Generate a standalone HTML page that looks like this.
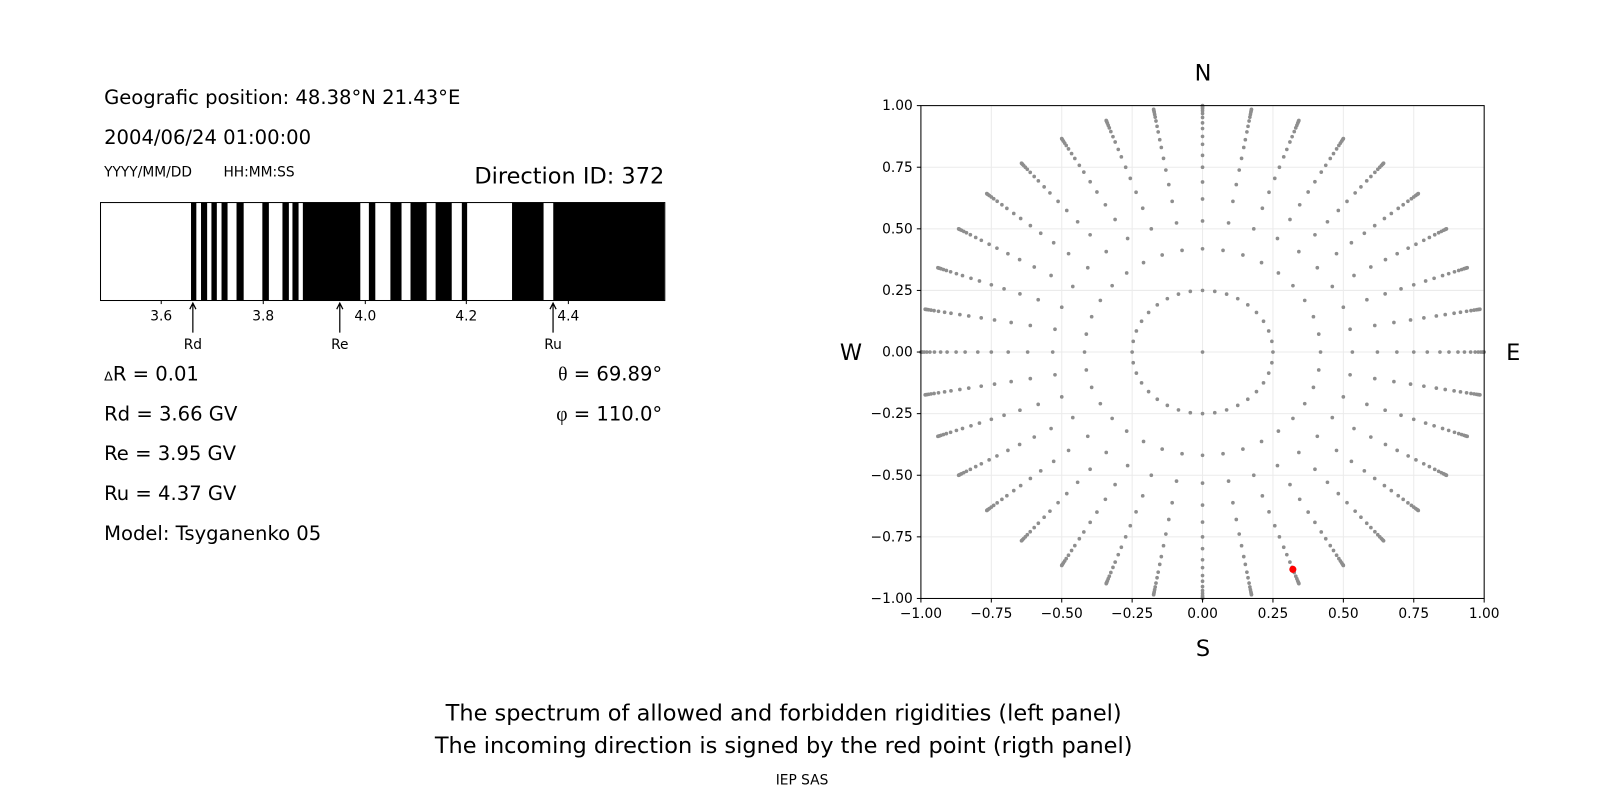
<!DOCTYPE html>
<html><head><meta charset="utf-8"><style>
html,body{margin:0;padding:0;background:#fff}
svg{display:block}
text{font-family:"DejaVu Sans","Liberation Sans",sans-serif;fill:#000}
</style></head><body>
<svg id="s" width="1600" height="800" viewBox="0 0 1600 800" xmlns="http://www.w3.org/2000/svg">
<g transform="scale(1.0204)">
<g font-size="19.2">
<text x="102" y="102">Geografic position: 48.38°N 21.43°E</text>
<text x="102" y="141">2004/06/24 01:00:00</text>
<text x="102" y="373"><tspan font-size="12.5">Δ</tspan>R = 0.01</text>
<text x="102" y="412">Rd = 3.66 GV</text>
<text x="102" y="451">Re = 3.95 GV</text>
<text x="102" y="490">Ru = 4.37 GV</text>
<text x="102" y="529">Model: Tsyganenko 05</text>
<text x="649" y="373" text-anchor="end"><tspan font-family="Liberation Serif,serif">θ</tspan> = 69.89°</text>
<text x="649" y="412" text-anchor="end"><tspan font-family="Liberation Serif,serif">φ</tspan> = 110.0°</text>
</g>
<text x="102" y="173" font-size="13.5">YYYY/MM/DD</text>
<text x="219" y="173" font-size="13.5">HH:MM:SS</text>
<text x="651" y="180" font-size="22" text-anchor="end">Direction ID: 372</text>
<g id="bar"></g>
<rect x="98.5" y="198.5" width="553" height="96" fill="none" stroke="#000" stroke-width="1"/>
<g font-size="13.5" text-anchor="middle">
<line x1="158" y1="294" x2="158" y2="298" stroke="#000"/><text x="158" y="314">3.6</text>
<line x1="258" y1="294" x2="258" y2="298" stroke="#000"/><text x="258" y="314">3.8</text>
<line x1="358" y1="294" x2="358" y2="298" stroke="#000"/><text x="358" y="314">4.0</text>
<line x1="457" y1="294" x2="457" y2="298" stroke="#000"/><text x="457" y="314">4.2</text>
<line x1="557" y1="294" x2="557" y2="298" stroke="#000"/><text x="557" y="314">4.4</text>
<g stroke="#000" stroke-width="1.2" fill="none">
<path d="M189 326V298M186 303L189 297L192 303"/>
<path d="M333 326V298M330 303L333 297L336 303"/>
<path d="M542 326V298M539 303L542 297L545 303"/>
</g>
<text x="189" y="342">Rd</text><text x="333" y="342">Re</text><text x="542" y="342">Ru</text>
</g>
<g id="grid" stroke="#ebebeb" stroke-width="1"></g>
<g id="pts" fill="#8e8e8e"></g>
<circle cx="1267" cy="558" r="3.5" fill="#f00"/>
<rect x="902.5" y="103.5" width="552" height="483" fill="none" stroke="#000" stroke-width="1"/>
<g id="ticks" font-size="13.5"></g>
<g font-size="22" text-anchor="middle">
<text x="1179" y="79">N</text><text x="1179" y="643">S</text>
<text x="834" y="353">W</text><text x="1483" y="353">E</text>
<text x="768" y="706">The spectrum of allowed and forbidden rigidities (left panel)</text>
<text x="768" y="738">The incoming direction is signed by the red point (rigth panel)</text>
</g>
<text x="786" y="769" font-size="13.5" text-anchor="middle">IEP SAS</text>
</g>
</svg>
<script>
var NS="http://www.w3.org/2000/svg";
function el(p,t,a){var e=document.createElementNS(NS,t);for(var k in a)e.setAttribute(k,a[k]);document.getElementById(p).appendChild(e);return e;}
var segs=[[187.2,192.4],[197,203],[207.2,212.5],[217.1,223],[231.8,238.8],[257.1,263.5],[276.8,283.1],[286.6,292.6],[296.8,353.1],[361.5,367.8],[382.6,393.5],[402.3,418.1],[426.9,442.7],[452.6,457.8],[501.8,532.7],[542.2,651]];
segs.forEach(function(s){el("bar","rect",{x:s[0],y:198.5,width:s[1]-s[0],height:96,fill:"#000"});});
var X0=902.5,X1=1454.5,Y0=586.5,Y1=103.5;
function px(x){return X0+(x+1)/2*(X1-X0);}
function py(y){return Y0-(y+1)/2*(Y0-Y1);}
var tv=[-1,-0.75,-0.5,-0.25,0,0.25,0.5,0.75,1];
tv.forEach(function(v){
 el("grid","line",{x1:px(v),y1:Y0,x2:px(v),y2:Y1});
 el("grid","line",{x1:X0,y1:py(v),x2:X1,y2:py(v)});
 el("ticks","line",{x1:px(v),y1:Y0,x2:px(v),y2:Y0+4,stroke:"#000"});
 el("ticks","line",{x1:X0-4,y1:py(v),x2:X0,y2:py(v),stroke:"#000"});
 var t=el("ticks","text",{x:px(v),y:Y0+19,"text-anchor":"middle"});t.textContent=v.toFixed(2).replace("-","−");
 var t2=el("ticks","text",{x:X0-8,y:py(v)+4.5,"text-anchor":"end"});t2.textContent=v.toFixed(2).replace("-","−");
});
var R=[0.419,0.532,0.621,0.69,0.75,0.798,0.843,0.875,0.907,0.93,0.952,0.968,0.979,0.988,0.994,0.998,1.0];
for(var a=0;a<360;a+=10){var r=a*Math.PI/180;
 R.forEach(function(q){el("pts","circle",{cx:px(q*Math.sin(r)),cy:py(q*Math.cos(r)),r:1.8});});
 el("pts","circle",{cx:px(0.25*Math.sin(r)),cy:py(0.25*Math.cos(r)),r:1.8});
}
el("pts","circle",{cx:px(0),cy:py(0),r:1.8});
</script>
</body></html>
